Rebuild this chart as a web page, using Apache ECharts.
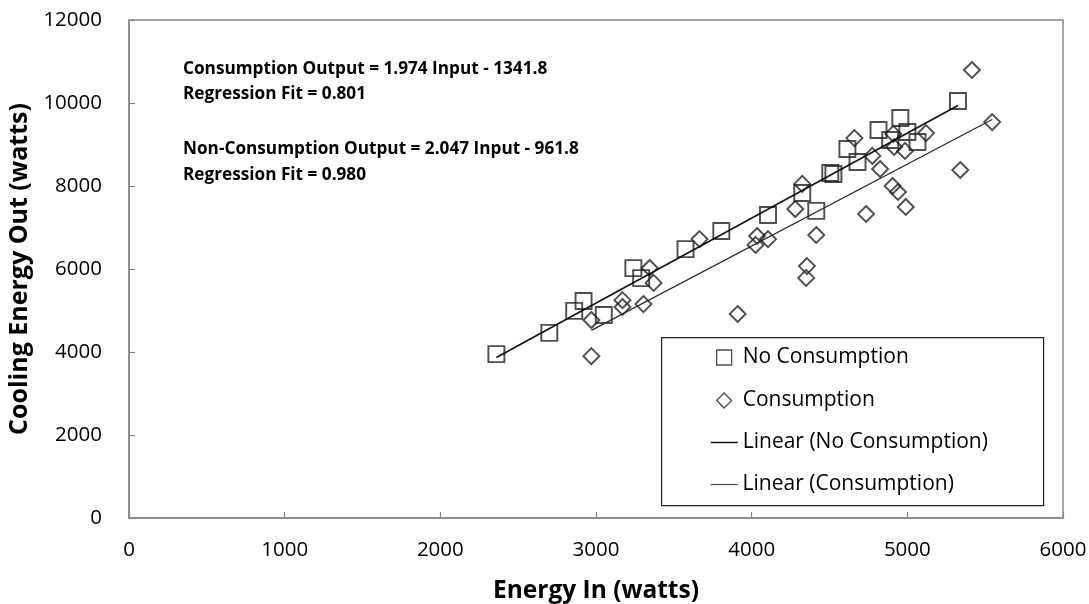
<!DOCTYPE html>
<html>
<head>
<meta charset="utf-8">
<script src="https://cdn.jsdelivr.net/npm/echarts@6/dist/echarts.min.js"></script>
<style>
  html, body { margin: 0; padding: 0; background: #fff; }
  #chart { width: 1089px; height: 604px; }
</style>
</head>
<body>
<div id="chart"></div>
<script>
// Measured energy in / cooling energy out (watts)
const noConsumptionIn  = [2360, 2700, 2860, 2920, 3050, 3240, 3290, 3575, 3805, 4105, 4325, 4415, 4505, 4525, 4615, 4680, 4815, 4890, 4955, 5000, 5065, 5325];
const noConsumptionOut = [3950, 4460, 4990, 5230, 4890, 6020, 5780, 6480, 6915, 7300, 7830, 7400, 8315, 8290, 8890, 8580, 9350, 9110, 9640, 9300, 9060, 10050];

const consumptionIn  = [2970, 2970, 3170, 3170, 3305, 3345, 3370, 3665, 3910, 4025, 4035, 4105, 4280, 4325, 4415, 4355, 4350, 4660, 4775, 4825, 4735, 4905, 4940, 4990, 4910, 4915, 4985, 5120, 5340, 5415, 5545];
const consumptionOut = [4770, 3900, 5250, 5085, 5155, 6025, 5665, 6720, 4915, 6580, 6795, 6720, 7445, 8050, 6820, 6070, 5785, 9155, 8725, 8410, 7325, 8000, 7855, 7495, 9255, 8940, 8845, 9275, 8385, 10795, 9540];

// Linear fits: [slope, intercept]
const noConsumptionFit = [2.047, -961.8];
const consumptionFit   = [1.974, -1341.8];

// Axis ticks
const xTicks = [0, 1000, 2000, 3000, 4000, 5000, 6000];
const yTicks = [0, 2000, 4000, 6000, 8000, 10000, 12000];

const fitNotes = [
  'Consumption Output = 1.974 Input - 1341.8',
  'Regression Fit = 0.801',
  'Non-Consumption Output = 2.047 Input - 961.8',
  'Regression Fit = 0.980'
];

const FONT = '"Open Sans", "Noto Sans", sans-serif';
const AXIS_GREY = '#868686';
const INK = '#222222';

function pairs(xs, ys) { return xs.map((x, i) => [x, ys[i]]); }
function fitLine(xs, fit) {
  const lo = Math.min(...xs), hi = Math.max(...xs);
  return [[lo, fit[0] * lo + fit[1]], [hi, fit[0] * hi + fit[1]]];
}

const chart = echarts.init(document.getElementById('chart'), null, { renderer: 'canvas' });

const hollow = { color: 'rgba(255,255,255,0)', borderColor: INK, borderWidth: 1.9 };
const legendText = { fontFamily: FONT, fontSize: 21, color: '#000' };
const plainNumber = v => String(v);

chart.setOption({
  animation: false,
  backgroundColor: '#fff',
  grid: {
    left: 129, right: 26, top: 20, bottom: 86,
    outerBoundsMode: 'none', containLabel: false,
    show: true, borderColor: AXIS_GREY, borderWidth: 1.5, backgroundColor: 'transparent'
  },
  xAxis: {
    type: 'value',
    min: xTicks[0], max: xTicks[xTicks.length - 1], interval: xTicks[1] - xTicks[0],
    name: 'Energy In (watts)', nameLocation: 'middle', nameGap: 61,
    nameTextStyle: { fontFamily: FONT, fontSize: 24.5, fontWeight: 'bold', color: '#000' },
    axisLine: { lineStyle: { color: AXIS_GREY, width: 1.5 } },
    axisTick: { inside: true, length: 6, lineStyle: { color: AXIS_GREY, width: 1.2 } },
    axisLabel: { fontFamily: FONT, fontSize: 20.5, color: '#000', margin: 22, formatter: plainNumber },
    splitLine: { show: false }
  },
  yAxis: {
    type: 'value',
    min: yTicks[0], max: yTicks[yTicks.length - 1], interval: yTicks[1] - yTicks[0],
    name: 'Cooling Energy Out (watts)', nameLocation: 'middle', nameGap: 93,
    nameTextStyle: { fontFamily: FONT, fontSize: 25, fontWeight: 'bold', color: '#000' },
    axisLine: { lineStyle: { color: AXIS_GREY, width: 1.5 } },
    axisTick: { inside: true, length: 6, lineStyle: { color: AXIS_GREY, width: 1.2 } },
    axisLabel: { fontFamily: FONT, fontSize: 20.5, color: '#000', margin: 27, formatter: plainNumber },
    splitLine: { show: false }
  },
  legend: [
    { data: [{ name: 'No Consumption', icon: 'rect' }], orient: 'vertical', left: 716, top: 347, padding: 0,
      itemWidth: 15, itemHeight: 15, itemStyle: { color: 'rgba(255,255,255,0)', borderColor: INK, borderWidth: 1.3 },
      textStyle: Object.assign({ padding: [0, 0, 0, 6] }, legendText) },
    { data: [{ name: 'Consumption', icon: 'diamond' }], orient: 'vertical', left: 716, top: 390, padding: 0,
      itemWidth: 15, itemHeight: 15, itemStyle: { color: 'rgba(255,255,255,0)', borderColor: INK, borderWidth: 1.3 },
      textStyle: Object.assign({ padding: [0, 0, 0, 6] }, legendText) },
    { data: ['Linear (No Consumption)'], orient: 'vertical', left: 710, top: 432, padding: 0,
      itemWidth: 27, itemHeight: 16, itemStyle: { opacity: 0 },
      lineStyle: { color: '#111', width: 1.5 }, textStyle: legendText },
    { data: ['Linear (Consumption)'], orient: 'vertical', left: 710, top: 474, padding: 0,
      itemWidth: 27, itemHeight: 16, itemStyle: { opacity: 0 },
      lineStyle: { color: '#444', width: 1.2 }, textStyle: legendText }
  ],
  graphic: [
    { type: 'rect', left: 661, top: 337, z: -1,
      shape: { width: 382, height: 168 },
      style: { fill: '#fff', stroke: INK, lineWidth: 1.2 } },
    { type: 'text', left: 183, top: 57,
      style: { text: fitNotes[0] + '\n' + fitNotes[1], fontFamily: FONT, fontSize: 17.2, fontWeight: 'bold', fill: '#000', lineHeight: 25 } },
    { type: 'text', left: 183, top: 136,
      style: { text: fitNotes[2] + '\n' + fitNotes[3], fontFamily: FONT, fontSize: 17.2, fontWeight: 'bold', fill: '#000', lineHeight: 26 } }
  ],
  series: [
    { name: 'No Consumption', type: 'scatter', symbol: 'rect', symbolSize: 16,
      itemStyle: hollow, data: pairs(noConsumptionIn, noConsumptionOut), z: 2 },
    { name: 'Consumption', type: 'scatter', symbol: 'diamond', symbolSize: 16,
      itemStyle: hollow, data: pairs(consumptionIn, consumptionOut), z: 2 },
    { name: 'Linear (No Consumption)', type: 'line', showSymbol: false, symbol: 'none',
      lineStyle: { color: '#111', width: 1.6 },
      data: fitLine(noConsumptionIn, noConsumptionFit), z: 3, silent: true },
    { name: 'Linear (Consumption)', type: 'line', showSymbol: false, symbol: 'none',
      lineStyle: { color: '#2a2a2a', width: 1.2 },
      data: fitLine(consumptionIn, consumptionFit), z: 3, silent: true }
  ]
});
</script>
</body>
</html>
